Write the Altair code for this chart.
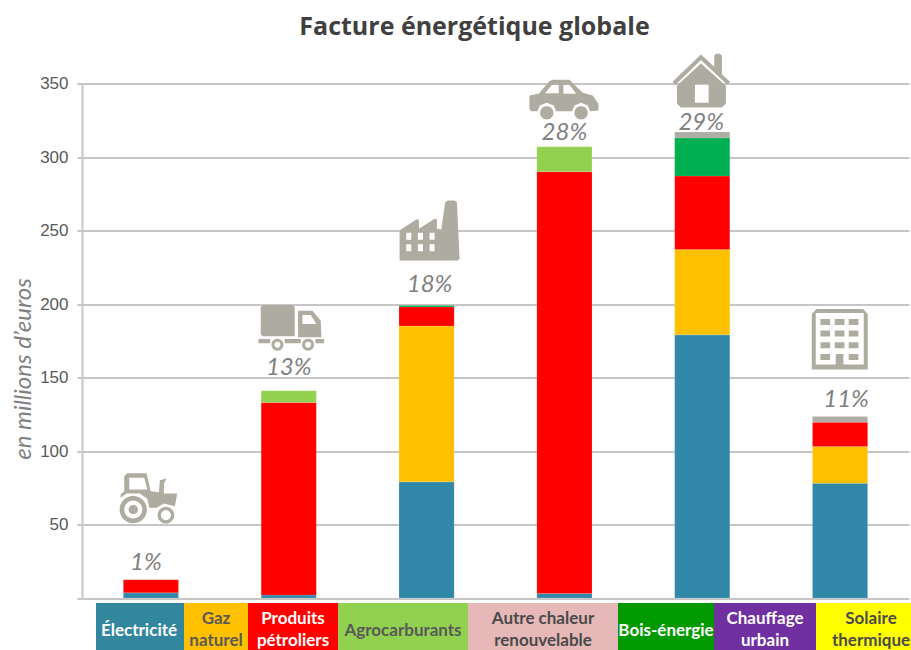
import math
import altair as alt
import pandas as pd

# Stacked energy bill per sector, in millions of euros
sectors = ["Agriculture", "Transport de marchandises", "Industrie",
           "Transport de personnes", "Résidentiel", "Tertiaire"]
electricite = [3.5, 2, 79, 3, 179, 78]
gaz = [0, 0, 106, 0, 58, 25]
petrole = [9, 131, 13, 287, 50, 16.5]
agrocarburants = [0, 8, 0, 17, 0, 0]
bois = [0, 0, 1, 0, 26, 0]
autres = [0, 0, 0, 0, 4, 4]

series_names = ["Électricité", "Gaz naturel", "Produits pétroliers",
                "Agrocarburants", "Bois-énergie", "Autres"]
series_colors = ["#3288A8", "#FFC000", "#FF0000", "#92D050", "#00B050", "#AEAEA6"]
series_values = [electricite, gaz, petrole, agrocarburants, bois, autres]

shares = ["1%", "13%", "18%", "28%", "29%", "11%"]
share_y = [24, 156.5, 213, 316.5, 323, 135]
share_shift = [-5, 0, 3, 0, -1, 6]
icon_y = [68, 184, 250, 339, 352, 176]

strip_labels = ["Électricité", "Gaz\nnaturel", "Produits\npétroliers", "Agrocarburants",
                "Autre chaleur\nrenouvelable", "Bois-énergie", "Chauffage\nurbain",
                "Solaire\nthermique"]
strip_widths = [88, 64, 90, 130, 150, 96, 102, 95]
strip_label_shift = [-1, 0, 0, 0, 0, 0, 0, 7.5]
strip_colors = ["#32869E", "#FFC000", "#FF0000", "#92D050", "#E6B8B7", "#009900",
                "#7030A0", "#FFFF00"]
strip_text = ["#FFFFFF", "#595959", "#FFFFFF", "#595959", "#4A4A4A", "#FFFFFF",
              "#FFFFFF", "#4A4A4A"]

PLOT_WIDTH = 827
BAR_PADDING = 0.6
GREY = "#AEABA0"
GLYPH_HALF = 40


def circle(cx, cy, r):
    return [(cx + r * math.cos(i * math.pi / 16), cy + r * math.sin(i * math.pi / 16))
            for i in range(32)]


def rect(x0, y0, x1, y1):
    return [(x0, y0), (x1, y0), (x1, y1), (x0, y1)]


def glyph(solids, holes, cx, cy):
    """Build a symbol path; holes wind against solids so the nonzero fill leaves them empty."""
    def wound(points, positive):
        area = sum(a[0] * b[1] - b[0] * a[1] for a, b in zip(points, points[1:] + points[:1]))
        return points if (area > 0) == positive else points[::-1]

    parts = []
    for points, positive in [(s, True) for s in solids] + [(h, False) for h in holes]:
        coords = [((x - cx) / 3 / GLYPH_HALF, (y - cy) / 3 / GLYPH_HALF)
                  for x, y in wound(points, positive)]
        parts.append("M" + "L".join(f"{x:.4f},{y:.4f}" for x, y in coords) + "Z")
    return "".join(parts)


tractor = glyph(
    [[(92, 615), (103, 605), (103, 560), (112, 551), (170, 551), (182, 605), (207, 608),
      (210, 572), (230, 566), (222, 582), (222, 612), (262, 612), (255, 650), (222, 642),
      (200, 655), (178, 655), (172, 628), (150, 612), (110, 612), (92, 625)],
     circle(130, 660, 41), circle(228, 677, 25), circle(130, 660, 14)],
    [[(118, 565), (163, 565), (172, 600), (118, 600)], circle(130, 660, 27), circle(228, 677, 15)],
    183, 625.5)
truck = glyph(
    [[(516, 48), (606, 48), (612, 54), (612, 142), (516, 142), (510, 136), (510, 54)],
     [(622, 65), (665, 65), (690, 95), (692, 145), (622, 145)],
     rect(503, 150, 538, 163), rect(582, 150, 630, 163), rect(674, 150, 700, 163),
     circle(560, 167, 18), circle(652, 167, 18)],
    [[(635, 78), (660, 78), (677, 105), (635, 105)], circle(560, 167, 9), circle(652, 167, 9)],
    594, 115.5)
factory = glyph(
    [[(60, 635), (60, 545), (110, 512), (118, 512), (118, 540), (165, 510), (172, 512),
      (172, 540), (185, 542), (197, 460), (205, 455), (225, 455), (232, 460), (240, 630),
      (235, 635)]],
    [rect(x, y, x + 15, y + 21) for x in (80, 115, 150) for y in (552, 586)],
    141, 545)
car = glyph(
    [[(450, 140), (478, 135), (510, 97), (520, 93), (570, 93), (610, 132), (640, 140),
      (657, 165), (657, 185), (632, 187), (625, 170), (605, 162), (585, 170), (578, 187),
      (530, 187), (523, 170), (502, 162), (481, 170), (474, 187), (455, 187), (450, 180)],
     circle(502, 192, 20), circle(605, 192, 20)],
    [[(497, 133), (518, 108), (538, 108), (538, 133)], [(552, 108), (570, 108), (590, 135), (552, 135)]],
    555, 152.5)
house = glyph(
    [[(880, 100), (965, 18), (1005, 55), (1005, 22), (1010, 16), (1022, 16), (1028, 22),
      (1028, 78), (1052, 100), (1045, 110), (965, 35), (888, 110)],
     [(893, 112), (965, 45), (1040, 112), (1040, 165), (1028, 177), (905, 177), (893, 165)]],
    [rect(947, 107, 988, 163)],
    969, 96.5)
building = glyph(
    [[(98, 212), (98, 45), (112, 30), (252, 30), (266, 45), (266, 212)],
     rect(170, 165, 193, 212)]
    + [rect(x, y, x + 29, y + 18) for x in (124, 209) for y in (60, 95, 130, 165)]
    + [rect(167, y, 196, y + 18) for y in (60, 95, 130)],
    [rect(110, 42, 254, 197)],
    183, 121)
icons = [tractor, truck, factory, car, house, building]

stack_rows = [
    {"secteur": sector, "energie": name, "rang": rank, "valeur": values[i]}
    for rank, (name, values) in enumerate(zip(series_names, series_values))
    for i, sector in enumerate(sectors)
    if values[i] > 0
]
stacks = pd.DataFrame(stack_rows)

# An x offset on a band scale starts from the band's left edge, hence the half bar
half_bar = PLOT_WIDTH / len(sectors) * (1 - BAR_PADDING) / 2
annotations = pd.DataFrame({
    "secteur": sectors, "part": shares, "part_y": share_y,
    "decalage": [half_bar + d for d in share_shift],
    "icone_y": icon_y, "icone": icons,
})
starts = [sum(strip_widths[:i]) for i in range(len(strip_widths))]
strip = pd.DataFrame({
    "libelle": strip_labels, "debut": starts,
    "fin": [s + w for s, w in zip(starts, strip_widths)],
    "milieu": [s + w / 2 + d for s, w, d in zip(starts, strip_widths, strip_label_shift)],
    "fond": strip_colors, "encre": strip_text,
})

x_band = alt.X("secteur:N", sort=sectors, axis=None,
               scale=alt.Scale(paddingInner=BAR_PADDING, paddingOuter=0.3))
y_scale = alt.Scale(domain=[0, 350], nice=False)

bars = alt.Chart(stacks).mark_bar(stroke="#FFFFFF", strokeOpacity=0.25, strokeWidth=0.5).encode(
    x=x_band,
    y=alt.Y(
        "valeur:Q", stack="zero", scale=y_scale,
        axis=alt.Axis(
            values=list(range(0, 351, 50)),
            labelExpr="datum.value == 0 ? '' : datum.label",
            labelFont="Liberation Sans", labelFontSize=17, labelColor="#595959", labelPadding=9,
            tickSize=5, tickColor="#C6C6C6", tickWidth=2,
            domainColor="#C6C6C6", domainWidth=2,
            grid=True, gridColor="#C6C6C6", gridWidth=2,
            title="en millions d’euros", titleFont="Lato", titleFontSize=24,
            titleFontStyle="italic", titleFontWeight="normal", titleColor="#808080",
            titleX=-59, titleY=285, titleAngle=270,
            titleAlign="center", titleBaseline="middle",
        ),
    ),
    color=alt.Color("energie:N", legend=None,
                    scale=alt.Scale(domain=series_names, range=series_colors)),
    order=alt.Order("rang:Q"),
)
share_text = alt.Chart(annotations).mark_text(
    font="Lato", fontSize=24, fontStyle="italic", color="#808080", baseline="middle",
).encode(
    x=x_band,
    xOffset=alt.XOffset("decalage:Q", scale=None),
    y=alt.Y("part_y:Q", scale=y_scale),
    text="part:N",
)
glyphs = alt.Chart(annotations).mark_point(
    filled=True, opacity=1, color=GREY, strokeWidth=0, size=(2 * GLYPH_HALF) ** 2,
).encode(
    x=x_band, y=alt.Y("icone_y:Q", scale=y_scale), shape=alt.Shape("icone:N", scale=None),
)
plot = alt.layer(bars, share_text, glyphs)

# Colour key below the plot, on its own pixel-sized scales
strip_x = alt.Scale(domain=[-14, 813], range=[0, PLOT_WIDTH], nice=False, zero=False)
strip_y = alt.Scale(domain=[0, 1], range=[519.5, 566.5], nice=False, zero=False)
cells = alt.Chart(strip).mark_rect().encode(
    x=alt.X("debut:Q", scale=strip_x, axis=None),
    x2="fin:Q",
    y=alt.Y("zero:Q", scale=strip_y, axis=None),
    y2="un:Q",
    color=alt.Color("fond:N", scale=None),
).transform_calculate(zero="0", un="1")
# Vega anchors a wrapped label on its first line, so two-line labels start higher
cell_text = alt.Chart(strip).mark_text(
    font="Lato", fontWeight="bold", fontSize=17, lineBreak="\n", lineHeight=22, baseline="middle",
).encode(
    x=alt.X("milieu:Q", scale=strip_x, axis=None),
    y=alt.Y("centre:Q", scale=strip_y, axis=None),
    text="libelle:N",
    color=alt.Color("encre:N", scale=None),
).transform_calculate(centre="indexof(datum.libelle, '\\n') >= 0 ? 0.34 : 0.6")
key = alt.layer(cells, cell_text).resolve_scale(color="independent")

chart = alt.layer(plot, key).resolve_scale(x="independent", y="independent", color="independent").properties(
    width=PLOT_WIDTH,
    height=514.5,
    padding={"left": 82, "top": 83.5, "right": 2, "bottom": 52},
    autosize=alt.AutoSizeParams(type="none"),
    background="#FFFFFF",
    title=alt.TitleParams(
        "Facture énergétique globale", font="Open Sans", fontSize=25, fontWeight="bold",
        color="#404040", anchor="middle", dx=-21, offset=14,
    ),
).configure_view(stroke=None)

chart.save("out.html", embed_options={"renderer": "svg", "actions": False})
